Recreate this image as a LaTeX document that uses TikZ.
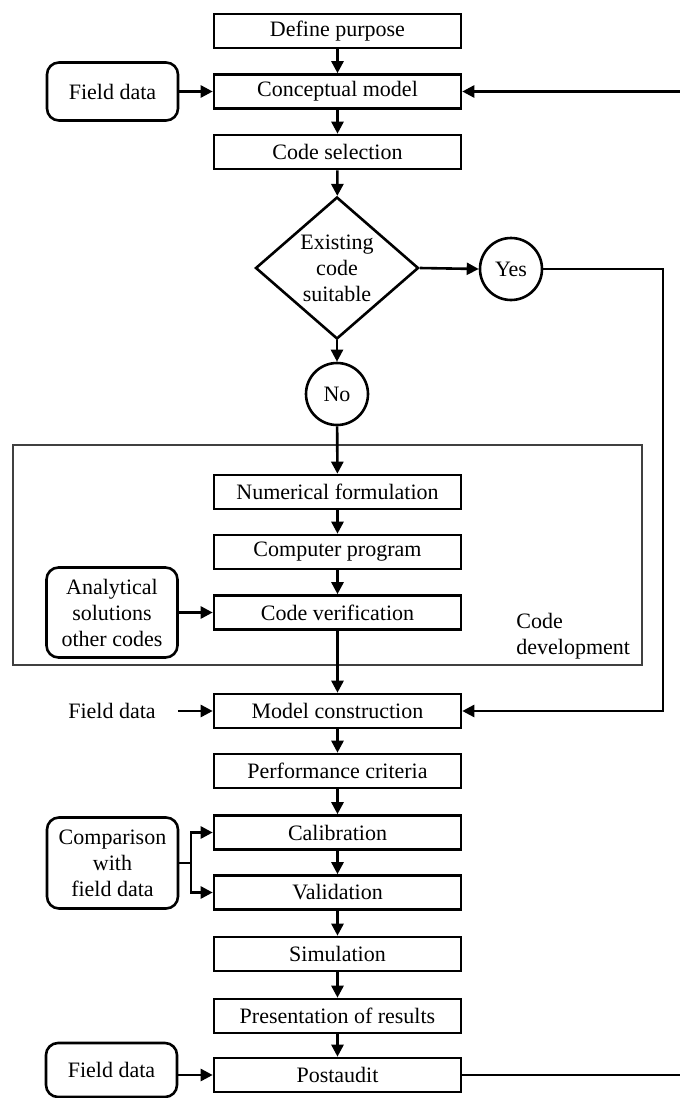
\documentclass[tikz,border=0pt]{standalone}
\usepackage{fontspec}
\setmainfont{Liberation Serif}
\usetikzlibrary{shapes.geometric,arrows.meta,positioning}

\begin{document}
\begin{tikzpicture}[x=0.5pt,y=-0.5pt,
    font=\fontsize{11}{13}\selectfont,
    mainbox/.style={draw, rectangle, line width=1.3pt, minimum width=123.5pt, minimum height=17pt, inner sep=1pt},
    sidebox/.style={draw, rectangle, rounded corners=6pt, line width=1.3pt, minimum width=65.5pt, align=center, inner sep=1pt},
    plainbox/.style={rectangle, minimum width=65.5pt, inner sep=1pt},
    answer/.style={draw, circle, line width=1.3pt, minimum size=31pt, inner sep=0pt},
    decision/.style={draw, diamond, aspect=1.15, line width=1.3pt, minimum width=81.5pt, minimum height=71pt, inner sep=0pt, align=center},
    flow/.style={line width=1.3pt, -{Triangle[length=6pt,width=6pt]}},
    loop/.style={line width=1.3pt},
    frame/.style={line width=0.6pt, draw=black!75}]
            \useasboundingbox (0,0) rectangle (680,1098);

            % main column
            \node[mainbox] (purpose) at (337.5,31) {Define purpose};
            \node[mainbox] (concept) at (337.5,91.5) {Conceptual model};
            \node[mainbox] (codesel) at (337.5,152) {Code selection};
            \node[decision] (suitable) at (337,268) {Existing\\code\\suitable};
            \node[answer] (yes) at (511,269) {Yes};
            \node[answer] (no) at (337,394) {No};

            % code development
            \draw[frame] (13,445) rectangle (642,665);
            \node[mainbox] (numform) at (337.5,492) {Numerical formulation};
            \node[mainbox] (program) at (337.5,552) {Computer program};
            \node[mainbox] (verify) at (337.5,612.5) {Code verification};
            \node[anchor=west, align=left, inner sep=0pt] (devlabel) at (516,636) {Code\\development};

            \node[mainbox] (construct) at (337.5,711) {Model construction};
            \node[mainbox] (criteria) at (337.5,771) {Performance criteria};
            \node[mainbox] (calib) at (337.5,832.5) {Calibration};
            \node[mainbox] (valid) at (337.5,892.5) {Validation};
            \node[mainbox] (simul) at (337.5,954) {Simulation};
            \node[mainbox] (present) at (337.5,1016) {Presentation of results};
            \node[mainbox] (postaudit) at (337.5,1075) {Postaudit};

            % side inputs
            \node[sidebox, minimum height=29pt] (fieldA) at (112.5,91.5) {Field data};
            \node[sidebox, minimum height=45pt] (analytic) at (112,612.5) {Analytical\\solutions\\other codes};
            \node[plainbox] (fieldB) at (112,711) {Field data};
            \node[sidebox, minimum height=45.5pt] (compare) at (112.5,863) {Comparison\\with\\field data};
            \node[sidebox, minimum height=27pt] (fieldC) at (111.5,1070) {Field data};

            \coordinate (yesturn) at (663,269);
            \coordinate (split) at (191,863);
            \coordinate (loopin) at (680,91.5);
            \coordinate (loopout) at (680,1075);

            % flow
            \draw[flow] (purpose) -- (concept);
            \draw[flow] (concept) -- (codesel);
            \draw[flow] (codesel) -- (suitable);
            \draw[flow] (suitable.east) -- (yes.west);
            \draw[flow] (suitable.south) -- (no.north);
            \draw[flow] (no) -- (numform);
            \draw[flow] (numform) -- (program);
            \draw[flow] (program) -- (verify);
            \draw[flow] (verify) -- (construct);
            \draw[flow] (construct) -- (criteria);
            \draw[flow] (criteria) -- (calib);
            \draw[flow] (calib) -- (valid);
            \draw[flow] (valid) -- (simul);
            \draw[flow] (simul) -- (present);
            \draw[flow] (present) -- (postaudit);

            % inputs
            \draw[flow] (fieldA.east) -- (concept.west);
            \draw[flow] (analytic.east) -- (verify.west);
            \draw[flow] (fieldB.east) -- (construct.west);
            \draw[flow] (fieldC.east |- postaudit) -- (postaudit.west);
            \draw[loop] (compare.east) -- (split);
            \draw[flow] (split) |- (calib.west);
            \draw[flow] (split) |- (valid.west);

            % feedback
            \draw[flow] (yes.east) -- (yesturn) |- (construct.east);
            \draw[loop] (postaudit.east) -- (loopout);
            \draw[flow] (loopin) -- (concept.east);

        \end{tikzpicture}
\end{document}
